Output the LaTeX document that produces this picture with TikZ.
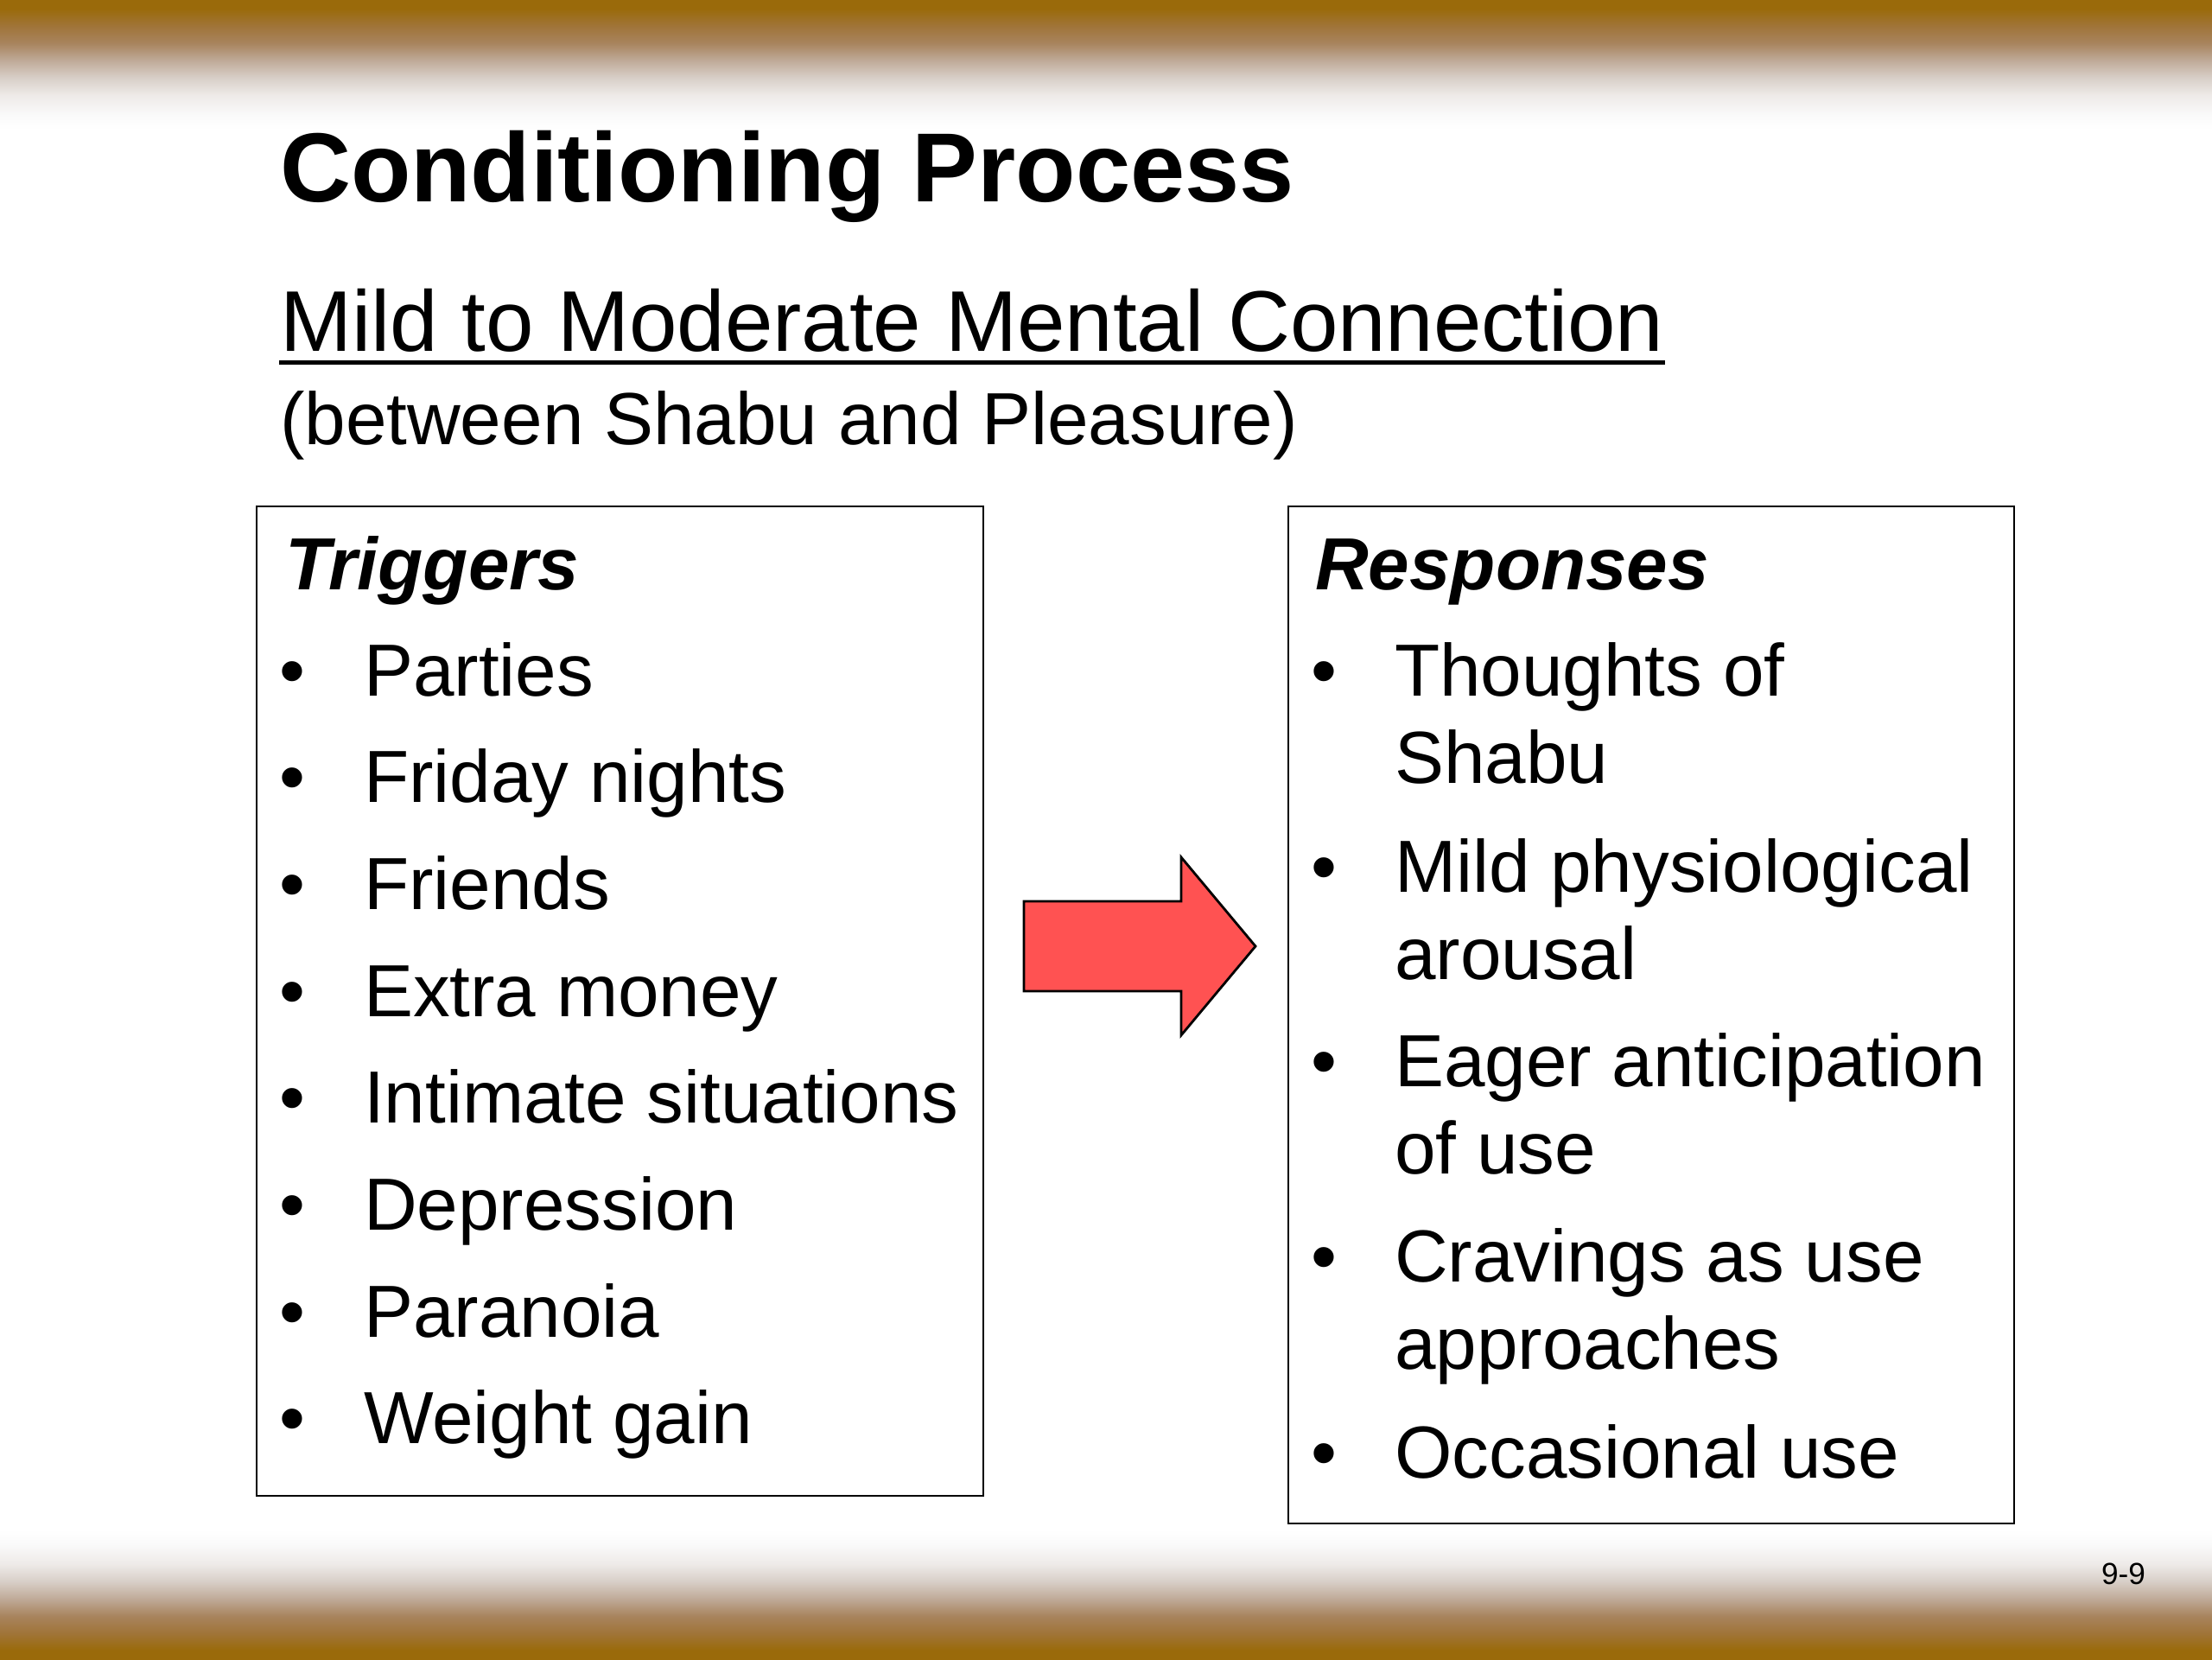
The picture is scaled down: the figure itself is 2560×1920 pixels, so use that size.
\documentclass[tikz,border=0pt]{standalone}
\usepackage{fontspec}
\setmainfont{Liberation Sans}
\usepackage{tikz}
\usetikzlibrary{positioning}

\definecolor{arrowred}{HTML}{FF5252}

% brown band fading to white (visible part is 25bp--75bp)
\pgfdeclareverticalshading{band}{100bp}{
    rgb(0bp)=(1,1,1); rgb(25bp)=(1,1,1);
    rgb(30.7bp)=(0.98,0.98,0.98);
    rgb(38.3bp)=(0.933,0.918,0.91);
    rgb(45bp)=(0.847,0.812,0.784);
    rgb(51.7bp)=(0.749,0.667,0.596);
    rgb(58.3bp)=(0.659,0.518,0.369);
    rgb(65bp)=(0.627,0.455,0.22);
    rgb(71.7bp)=(0.604,0.416,0.039);
    rgb(100bp)=(0.604,0.416,0.039)}

\begin{document}
\begin{tikzpicture}[
            x = 0.01cm, y = -0.01cm, % one unit is one pixel, y downwards
            inner sep = 0pt,
            semithick % line style
        ]

        \tikzstyle{listbox}=[
            draw = black,
            line width = 0.5pt,
            fill = white
        ]
        \tikzstyle{line}=[anchor = base west, font = \fontsize{24.3}{28}\selectfont]
        \tikzstyle{dot}=[anchor = base west, font = \fontsize{24.3}{28}\selectfont]
        \tikzstyle{heading}=[anchor = base west, font = \fontsize{24.3}{28}\selectfont\bfseries\itshape]

        \useasboundingbox (0,0) rectangle (2560,1920);

        % top and bottom bands
        \shade[shading = band] (0,0) rectangle (2560,150);
        \shade[shading = band, shading angle = 180] (0,1770) rectangle (2560,1920);

        % titles
        \node[anchor = base west, font = \fontsize{32.3}{38}\selectfont\bfseries] (title) at (323,233) {Conditioning Process};
        \node[anchor = base west, font = \fontsize{28.35}{34}\selectfont] (sub) at (323,406) {Mild to Moderate Mental Connection};
        \draw[line width = 1.4pt] ([yshift=-3.8pt]sub.base west) -- ([yshift=-3.8pt]sub.base east);
        \node[anchor = base west, font = \fontsize{24.3}{28}\selectfont] (between) at (323,514) {(between Shabu and Pleasure)};

        % triggers box
        \draw[listbox] (297,586) rectangle (1138,1731);
        \node[heading] (trig) at (329,682) {Triggers};
        \foreach \txt [count=\i] in {Parties, Friday nights, Friends, Extra money,
                                      Intimate situations, Depression, Paranoia, Weight gain} {
            \node[dot] (tb\i) at (322, {805+123.7*(\i-1)}) {\textbullet};
            \node[line] (t\i) at (420, {805+123.7*(\i-1)}) {\txt};
        }

        % arrow
        \draw[fill = arrowred, line width = 0.8pt] (1185,1043) -- (1367,1043) -- (1367,992)
            -- (1453,1095) -- (1367,1198) -- (1367,1147) -- (1185,1147) -- cycle;

        % responses box
        \draw[listbox] (1491,586) rectangle (2331,1763);
        \node[heading] (resp) at (1521,682) {Responses};
        \foreach \first/\second/\y [count=\i] in {Thoughts of/Shabu/805,
                                                  Mild physiological/arousal/1032,
                                                  Eager anticipation/of use/1257,
                                                  Cravings as use/approaches/1483} {
            \node[dot] (rb\i) at (1516,\y) {\textbullet};
            \node[line] (r\i) at (1613,\y) {\first};
            \node[line] (r\i b) at (1613,\y+101) {\second};
        }
        \node[dot] (rb5) at (1516,1710) {\textbullet};
        \node[line] (r5) at (1613,1710) {Occasional use};

        % slide number
        \node[anchor = base east, font = \fontsize{10}{12}\selectfont] (num) at (2484,1833) {9-9};

  \end{tikzpicture}
\end{document}
